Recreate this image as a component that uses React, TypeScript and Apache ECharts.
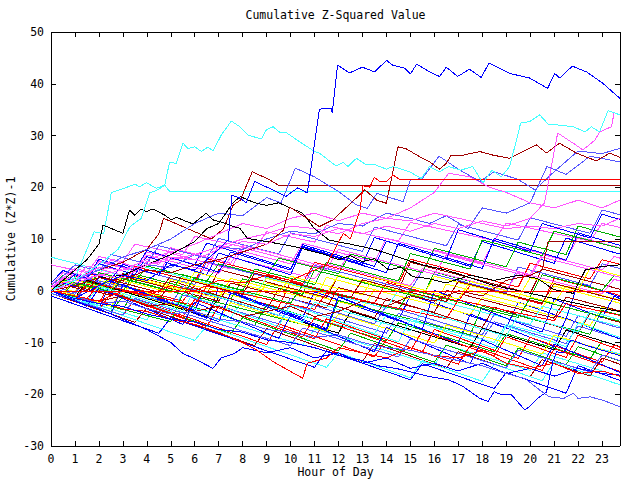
import React, { useEffect, useRef } from "react";
import * as echarts from "echarts";

const TITLE = "Cumulative Z-Squared Value";
const X_NAME = "Hour of Day";
const Y_NAME = "Cumulative (Z*Z)-1";

// half-hour sample times for the bundle series
const HOURS = [0, 0.5, 1, 1.5, 2, 2.5, 3, 3.5, 4, 4.5, 5, 5.5, 6, 6.5, 7, 7.5, 8, 8.5, 9, 9.5, 10, 10.5, 11, 11.5,
  12, 12.5, 13, 13.5, 14, 14.5, 15, 15.5, 16, 16.5, 17, 17.5, 18, 18.5, 19, 19.5, 20, 20.5, 21, 21.5, 22, 22.5, 23, 23.5, 23.75];

const L1 = [0,-0.6,-1.2,-1.8,-2.4,1.6,1,0.4,-0.2,-0.8,-1.4,-2,1,0.4,-0.2,-0.8,-1.4,-2,-2.6,-3.2,1.8,1.2,0.6,0,-0.6,-1.2,-1.8,-2.4,1.6,1,0.4,-0.2,-0.8,-1.4,-2,1,0.4,-0.2,-0.8,-1.4,-2,-2.6,2.4,1.8,1.2,0.6,0,-0.6,-0.9];
const L2 = [0.5,-0.2,-0.9,-1.6,-2.3,-3,-3.7,0.3,-0.4,-1.1,-1.8,-2.5,-3.2,-3.9,-4.6,-5.3,-6,-6.7,-2.7,-3.4,-4.1,-4.8,-5.5,-6.2,-6.9,-7.6,-8.3,-9,-9.7,-6.2,-6.9,-7.6,-8.3,-9,-9.7,-10.4,-11.1,-11.8,-8.3,-9,-9.7,-10.4,-11.1,-11.8,-12.5,-13.2,-9.7,-10.4,-10.8];
const L3 = [0,-0.8,-1.6,-2.4,2.6,1.8,1,0.2,-0.6,-1.4,-2.2,-3,-3.8,1.2,0.4,-0.4,-1.2,-2,-2.8,-3.6,-4.4,-5.2,-0.2,-1,-1.8,-2.6,-3.4,-4.2,-5,-5.8,-0.8,-1.6,-2.4,-3.2,-4,-4.8,-5.6,-6.4,-7.2,-2.2,-3,-3.8,-4.6,-5.4,1.6,0.8,0,-0.8,-1.2];
const L4 = [1,3.5,2.9,2.3,5.8,5.2,4.6,4,7.5,6.9,6.3,5.7,5.1,4.5,8.8,8.2,7.6,7,6.4,5.8,5.2,9.2,8.6,8,7.4,6.8,6.2,5.6,10.1,9.5,8.9,8.3,7.7,7.1,6.5,5.9,5.3,9.6,9,8.4,7.8,7.2,6.6,6,10.4,9.8,9.2,8.6,8.3];
const L5 = [0,-0.7,-1.4,-2.1,-2.8,-3.5,-4.2,-4.9,-5.6,-2.1,-2.8,-3.5,-4.2,-4.9,-5.6,-6.3,-7,-7.7,-8.4,-9.1,-9.8,-10.5,-7.4,-8.1,-8.8,-9.5,-10.2,-10.9,-11.6,-12.3,-13,-13.7,-14.4,-10.5,-11.2,-11.9,-12.6,-13.3,-14,-14.7,-15.4,-12,-12.7,-13.4,-14.1,-14.8,-15.5,-16.2,-16.5];
const L6 = [0,1.8,1.2,0.6,0,-0.6,3.4,2.8,2.2,1.6,1,0.4,-0.2,-0.8,4.1,3.5,2.9,2.3,1.7,1.1,0.5,-0.1,-0.7,-1.3,3,2.4,1.8,1.2,0.6,0,5.5,4.9,4.3,3.7,3.1,2.5,1.9,1.3,0.7,0.1,-0.5,4.2,3.6,3,2.4,1.8,1.2,0.6,0.3];
const L7 = [1,0.4,-0.2,2.6,2,1.4,0.8,0.2,-0.4,-1,2.2,1.6,1,0.4,-0.2,-0.8,-1.4,-2,1.5,0.9,0.3,-0.3,-0.9,-1.5,-2.1,-2.7,-3.3,0.2,-0.4,-1,-1.6,-2.2,-2.8,-3.4,-4,-4.6,-1.3,-1.9,-2.5,-3.1,-3.7,-4.3,-4.9,-5.5,-6.1,-6.7,-3.2,-3.8,-4.1];
const L8 = [-0.5,-1.2,-1.9,0.9,0.2,-0.5,-1.2,-1.9,-2.6,-3.3,-4,-0.8,-1.5,-2.2,-2.9,-3.6,-4.3,-5,-5.7,-6.4,-2.6,-3.3,-4,-4.7,-5.4,-6.1,-6.8,-7.5,-8.2,-4.4,-5.1,-5.8,-6.5,-7.2,-7.9,-8.6,-9.3,-6,-6.7,-7.4,-8.1,-8.8,-9.5,-10.2,-6.8,-7.5,-8.2,-8.9,-9.3];
const L9 = [0,-0.8,-1.6,-2.4,-3.2,-4,-4.8,-1.6,-2.4,-3.2,-4,-4.8,-5.6,-6.4,-7.2,-8,-8.8,-9.6,-10.4,-6.4,-7.2,-8,-8.8,-9.6,-10.4,-11.2,-12,-12.8,-9.4,-10.2,-11,-11.8,-12.6,-13.4,-14.2,-10.6,-11.4,-12.2,-13,-13.8,-14.6,-15.4,-11.2,-12,-12.8,-13.6,-14.4,-15.2,-15.6];
const L10 = [1,2.9,2.3,1.7,1.1,0.5,-0.1,3.2,2.6,2,1.4,0.8,0.2,-0.4,-1,-1.6,2.3,1.7,1.1,0.5,-0.1,-0.7,4,3.4,2.8,2.2,1.6,1,0.4,-0.2,-0.8,-1.4,3.6,3,2.4,1.8,1.2,0.6,0,-0.6,-1.2,3.1,2.5,1.9,1.3,0.7,0.1,2.9,2.6];
const L11 = [0,-0.9,-1.8,-2.7,-3.6,1.9,1,0.1,-0.8,-1.7,-2.6,-3.5,-4.4,-5.3,0.8,-0.1,-1,-1.9,-2.8,-3.7,-4.6,-5.5,-6.4,-7.3,-1.1,-2,-2.9,-3.8,-4.7,-5.6,-6.5,-7.4,-8.3,-9.2,-10.1,-4.5,-5.4,-6.3,-7.2,-8.1,-9,-9.9,-10.8,-5.3,-6.2,-7.1,-8,-8.9,-9.3];
const L12 = [5,4.5,4,3.5,6.6,6.1,5.6,9,8.5,8,7.5,7,10.5,10,9.5,9,8.5,8,11.4,10.9,10.4,9.9,9.4,12.6,12.1,11.6,11.1,10.6,10.1,9.6,13.2,12.7,12.2,11.7,11.2,10.7,10.2,9.7,13.1,12.6,12.1,11.6,11.1,10.6,10.1,9.6,13,12.5,12.2];
const L13 = [-0.5,-1.1,-1.7,-2.3,-2.9,-3.5,0.2,-0.4,-1,-1.6,-2.2,-2.8,-3.4,-4,-4.6,-5.2,-1.8,-2.4,-3,-3.6,-4.2,-4.8,-5.4,-6,-6.6,-7.2,-7.8,-8.4,-4.6,-5.2,-5.8,-6.4,-7,-7.6,-8.2,-8.8,-9.4,-10,-6.5,-7.1,-7.7,-8.3,-8.9,-9.5,-10.1,-10.7,-11.3,-11.9,-12.2];
const L14 = [0,-0.7,2.8,2.1,1.4,0.7,0,-0.7,-1.4,-2.1,1.9,1.2,0.5,-0.2,-0.9,-1.6,-2.3,-3,-3.7,0.4,-0.3,-1,-1.7,-2.4,-3.1,-3.8,-4.5,-5.2,-1.5,-2.2,-2.9,-3.6,-4.3,-5,-5.7,-6.4,-7.1,-3.2,-3.9,-4.6,-5.3,-6,-6.7,-7.4,-8.1,-4.4,-5.1,-5.8,-6.1];
const L15 = [0,2.2,1.6,1,0.4,-0.2,-0.8,2.7,2.1,1.5,0.9,0.3,-0.3,-0.9,-1.5,2.4,1.8,1.2,0.6,0,-0.6,-1.2,-1.8,2.6,2,1.4,0.8,0.2,-0.4,-1,-1.6,-2.2,-2.8,1.3,0.7,0.1,-0.5,-1.1,-1.7,-2.3,-2.9,-3.5,0.9,0.3,-0.3,-0.9,-1.5,-2.1,-2.4];
const L16 = [0,-0.7,-1.4,2,1.3,0.6,-0.1,-0.8,-1.5,-2.2,-2.9,-3.6,-4.3,-5,-1.2,-1.9,-2.6,-3.3,-4,-4.7,-5.4,-6.1,-6.8,-7.5,-8.2,-4,-4.7,-5.4,-6.1,-6.8,-7.5,-8.2,-8.9,-9.6,-10.3,-11,-7.2,-7.9,-8.6,-9.3,-10,-10.7,-11.4,-7.6,-8.3,-9,-9.7,-10.4,-10.8];
const L17 = [0.5,-0.1,-0.7,2.5,1.9,1.3,0.7,4.2,3.6,3,2.4,1.8,1.2,5.6,5,4.4,3.8,3.2,2.6,2,1.4,0.8,4.9,4.3,3.7,3.1,2.5,1.9,1.3,0.7,0.1,3.8,3.2,2.6,2,1.4,0.8,0.2,-0.4,4.6,4,3.4,2.8,2.2,1.6,1,5.2,4.6,4.3];
const L18 = [-0.5,-1.3,-2.1,-2.9,-3.7,-0.5,-1.3,-2.1,-2.9,-3.7,-4.5,-5.3,-6.1,-6.9,-2.9,-3.7,-4.5,-5.3,-6.1,-6.9,-7.7,-8.5,-9.3,-5.4,-6.2,-7,-7.8,-8.6,-9.4,-10.2,-11,-11.8,-7.5,-8.3,-9.1,-9.9,-10.7,-11.5,-12.3,-13.1,-9,-9.8,-10.6,-11.4,-12.2,-13,-13.8,-10.5,-10.9];
const L19 = [0,-0.6,-1.2,-1.8,-2.4,-3,-3.6,-4.2,-4.8,-5.4,-6,-0.5,-1.1,-1.7,-2.3,-2.9,-3.5,-4.1,-4.7,-5.3,-5.9,-6.5,-7.1,-7.7,-1.9,-2.5,-3.1,-3.7,-4.3,-4.9,-5.5,-6.1,-6.7,-7.3,-7.9,-8.5,-3,-3.6,-4.2,-4.8,-5.4,-6,-6.6,-7.2,-7.8,-8.4,-3.8,-4.4,-4.7];
const L20 = [1.5,3.9,3.2,2.5,6.1,5.4,4.7,4,7.8,7.1,6.4,5.7,5,9.2,8.5,7.8,7.1,6.4,5.7,5,4.3,8.6,7.9,7.2,6.5,5.8,5.1,10.3,9.6,8.9,8.2,7.5,6.8,6.1,5.4,4.7,9.5,8.8,8.1,7.4,6.7,6,5.3,10.2,9.5,8.8,8.1,7.4,7.1];
const L21 = [0,2.4,4.3,3.7,3.1,5.9,5.3,4.7,4.1,3.5,7.2,6.6,6,5.4,4.8,4.2,8.3,7.7,7.1,6.5,5.9,5.3,4.7,4.1,8,7.4,6.8,6.2,5.6,5,4.4,3.8,7.9,7.3,6.7,6.1,5.5,4.9,4.3,3.7,3.1,7,6.4,5.8,5.2,4.6,4,6.6,6.3];
const L22 = [0,-0.8,-1.6,1.5,0.7,-0.1,-0.9,-1.7,-2.5,-3.3,-4.1,-0.5,-1.3,-2.1,-2.9,-3.7,-4.5,-5.3,-6.1,-6.9,-2.7,-3.5,-4.3,-5.1,-5.9,-6.7,-7.5,-8.3,-9.1,-9.9,-5.5,-6.3,-7.1,-7.9,-8.7,-9.5,-10.3,-11.1,-6.8,-7.6,-8.4,-9.2,-10,-10.8,-6.2,-7,-7.8,-8.6,-9];
const L23 = [0,1.5,0.9,0.3,-0.3,-0.9,2.8,2.2,1.6,1,0.4,-0.2,-0.8,-1.4,-2,1.5,0.9,0.3,-0.3,-0.9,-1.5,-2.1,-2.7,-3.3,0.6,0,-0.6,-1.2,-1.8,-2.4,-3,-3.6,-4.2,0.1,-0.5,-1.1,-1.7,-2.3,-2.9,-3.5,-4.1,-4.7,-5.3,-1.2,-1.8,-2.4,-3,-3.6,-3.9];
const L24 = [0.5,-0.2,-0.9,-1.6,-2.3,-3,0.1,-0.6,-1.3,-2,-2.7,-3.4,-4.1,-4.8,-5.5,-2.3,-3,-3.7,-4.4,-5.1,-5.8,-6.5,-7.2,-7.9,-4.5,-5.2,-5.9,-6.6,-7.3,-8,-8.7,-9.4,-10.1,-6.6,-7.3,-8,-8.7,-9.4,-10.1,-10.8,-11.5,-12.2,-8.6,-9.3,-10,-10.7,-11.4,-12.1,-12.4];
const L25 = [0,1.8,1.2,0.6,3.5,2.9,2.3,1.7,4.8,4.2,3.6,3,2.4,1.8,5.2,4.6,4,3.4,2.8,6.3,5.7,5.1,4.5,3.9,3.3,7.1,6.5,5.9,5.3,4.7,4.1,3.5,8.2,7.6,7,6.4,5.8,5.2,4.6,9.4,8.8,8.2,7.6,7,12.5,11.9,11.3,10.7,10.4];
const L26 = [-1,-1.8,-2.6,-3.4,-4.2,-5,-5.8,-6.6,-7.4,-8.2,-5.2,-6,-6.8,-7.6,-8.4,-9.2,-10,-10.8,-11.6,-12.4,-13.2,-14,-14.8,-11.6,-12.4,-13.2,-14,-14.8,-15.6,-16.4,-17.2,-14.1,-14.9,-15.7,-16.5,-17.3,-18.1,-18.9,-15.8,-16.6,-17.4,-18.2,-19,-19.8,-14.5,-15.3,-16.1,-16.9,-17.3];
const L27 = [0,1.6,1,3.4,2.8,2.2,1.6,4.7,4.1,3.5,2.9,2.3,1.7,6.2,5.6,5,4.4,3.8,3.2,2.6,2,1.4,5.5,4.9,4.3,3.7,3.1,2.5,1.9,1.3,6.1,5.5,4.9,4.3,3.7,3.1,2.5,1.9,1.3,0.7,5.3,4.7,4.1,3.5,2.9,2.3,6,5.4,5.1];
const L28 = [1,0.3,-0.4,2.3,1.6,0.9,0.2,-0.5,-1.2,-1.9,-2.6,0.8,0.1,-0.6,-1.3,-2,-2.7,-3.4,-4.1,-4.8,-1.5,-2.2,-2.9,-3.6,-4.3,-5,-5.7,-6.4,-2.9,-3.6,-4.3,-5,-5.7,-6.4,-7.1,-7.8,-8.5,-4.6,-5.3,-6,-6.7,-7.4,-8.1,-8.8,-4.8,-5.5,-6.2,-6.9,-7.2];
const L29 = [0,1.5,3.4,2.8,5.6,5,4.4,3.8,6.9,6.3,5.7,5.1,4.5,3.9,3.3,6.5,5.9,5.3,4.7,4.1,3.5,2.9,2.3,5.2,4.6,4,3.4,2.8,2.2,1.6,1,4.3,3.7,3.1,2.5,1.9,1.3,0.7,0.1,3.6,3,2.4,1.8,1.2,0.6,0,-0.6,2.2,1.9];
const L30 = [0,-0.8,-1.6,-2.4,-3.2,-4,-1.1,-1.9,-2.7,-3.5,-4.3,-5.1,-5.9,-6.7,-7.5,-8.3,-5.2,-6,-6.8,-7.6,-8.4,-9.2,-10,-10.8,-11.6,-8.2,-9,-9.8,-10.6,-11.4,-12.2,-13,-13.8,-10.5,-11.3,-12.1,-12.9,-13.7,-14.5,-11.1,-11.9,-12.7,-13.5,-14.3,-10.8,-11.6,-12.4,-13.2,-13.6];
const L31 = [6.5,5.9,5.3,4.7,4.1,3.5,2.9,5.1,4.5,3.9,3.3,2.7,2.1,1.5,0.9,0.3,-0.3,-0.9,2.6,2,1.4,0.8,0.2,-0.4,-1,-1.6,-2.2,-2.8,-3.4,0.1,-0.5,-1.1,-1.7,-2.3,-2.9,-3.5,-4.1,-4.7,-5.3,-5.9,-6.5,-3,-3.6,-4.2,-4.8,-5.4,-6,-6.6,-6.9];
const L32 = [0,1.9,1.3,0.7,0.1,2.6,2,1.4,0.8,0.2,-0.4,2.5,1.9,1.3,0.7,0.1,-0.5,-1.1,2.4,1.8,1.2,0.6,0,-0.6,3,2.4,1.8,1.2,0.6,0,-0.6,-1.2,2.8,2.2,1.6,1,0.4,-0.2,-0.8,-1.4,2.5,1.9,1.3,0.7,0.1,4.4,3.8,3.2,2.9];
const L33 = [-0.5,-1.3,-2.1,-2.9,-3.7,-4.5,-5.3,-6.1,-3.4,-4.2,-5,-5.8,-6.6,-7.4,-8.2,-9,-9.8,-10.6,-7.3,-8.1,-8.9,-9.7,-10.5,-11.3,-12.1,-12.9,-13.7,-10.2,-11,-11.8,-12.6,-13.4,-14.2,-15,-11.8,-12.6,-13.4,-14.2,-15,-15.8,-16.6,-13.3,-14.1,-14.9,-15.7,-16.5,-13,-13.8,-14.2];
const L34 = [0,-0.9,-1.8,-2.7,-3.6,-4.5,1.2,0.3,-0.6,-1.5,-2.4,-3.3,-4.2,-5.1,-6,-0.4,-1.3,-2.2,-3.1,-4,-4.9,-5.8,-6.7,-7.6,-1.2,-2.1,-3,-3.9,-4.8,-5.7,-6.6,-7.5,0.1,-0.8,-1.7,-2.6,-3.5,-4.4,-5.3,-6.2,-7.1,-8,-1.6,-2.5,-3.4,-4.3,-5.2,-1.1,-1.5];
const L35 = [1,2.8,5,4.4,3.8,7,6.4,5.8,5.2,8.7,8.1,7.5,6.9,6.3,10.1,9.5,8.9,8.3,7.7,7.1,11.2,10.6,10,9.4,8.8,8.2,7.6,12.3,11.7,11.1,10.5,9.9,9.3,8.7,12.8,12.2,11.6,11,10.4,9.8,14.1,13.5,12.9,12.3,11.7,11.1,15.6,15,14.7];
const L36 = [0,-0.8,-1.6,1.3,0.5,-0.3,-1.1,-1.9,-2.7,-3.5,-4.3,-5.1,-1.7,-2.5,-3.3,-4.1,-4.9,-5.7,-6.5,-7.3,-8.1,-8.9,-5.2,-6,-6.8,-7.6,-8.4,-9.2,-10,-10.8,-11.6,-7.8,-8.6,-9.4,-10.2,-11,-11.8,-12.6,-8.9,-9.7,-10.5,-11.3,-12.1,-12.9,-8.6,-9.4,-10.2,-11,-11.4];
const L37 = [0,2.1,1.5,0.9,0.3,2.9,2.3,1.7,1.1,0.5,-0.1,-0.7,2.4,1.8,1.2,0.6,0,-0.6,-1.2,-1.8,-2.4,1.1,0.5,-0.1,-0.7,-1.3,-1.9,-2.5,-3.1,-3.7,0.2,-0.4,-1,-1.6,-2.2,-2.8,-3.4,-4,-4.6,-5.2,-1.4,-2,-2.6,-3.2,-3.8,-4.4,-5,-5.6,-5.9];
const L38 = [0,1.3,3.1,2.4,5.2,4.5,3.8,3.1,6.6,5.9,5.2,4.5,3.8,3.1,7.3,6.6,5.9,5.2,4.5,3.8,3.1,8.4,7.7,7,6.3,5.6,4.9,4.2,3.5,9.2,8.5,7.8,7.1,6.4,5.7,5,4.3,10.1,9.4,8.7,8,7.3,6.6,5.9,11.2,10.5,9.8,9.1,8.8];
const L39 = [0.5,2.6,2,4.8,4.2,3.6,3,2.4,5.7,5.1,8.3,7.7,7.1,6.5,5.9,5.3,8.8,8.2,7.6,7,6.4,5.8,5.2,4.6,4,7.4,6.8,6.2,5.6,5,4.4,3.8,3.2,6.9,6.3,5.7,5.1,4.5,3.9,3.3,2.7,6.5,5.9,5.3,4.7,4.1,3.5,2.9,2.6];
const L40 = [0,-0.8,-1.6,-2.4,-3.2,-4,-4.8,-5.6,-6.4,-7.2,-8,-8.8,-9.6,-6.8,-7.6,-8.4,-9.2,-10,-10.8,-11.6,-12.4,-13.2,-14,-14.8,-12,-12.8,-13.6,-14.4,-15.2,-16,-16.8,-13.5,-14.3,-15.1,-15.9,-16.7,-17.5,-14.2,-15,-15.8,-16.6,-17.4,-13.8,-14.6,-15.4,-16.2,-17,-17.8,-18.1];
const L41 = [0,-0.5,-1,-1.5,1.2,0.7,0.2,-0.3,-0.8,-1.3,-1.8,-2.3,-2.8,0.9,0.4,-0.1,-0.6,-1.1,-1.6,-2.1,-2.6,-3.1,-3.6,-0.4,-0.9,-1.4,-1.9,-2.4,-2.9,-3.4,-3.9,-4.4,-4.9,-5.4,-1.8,-2.3,-2.8,-3.3,-3.8,-4.3,-4.8,-5.3,-5.8,-2.5,-3,-3.5,-4,-4.5,-4.8];
const L42 = [0,-1,-2,-3,0.5,-0.5,-1.5,-2.5,-3.5,-4.5,-5.5,-6.5,-2.2,-3.2,-4.2,-5.2,-6.2,-7.2,-8.2,-9.2,-4.8,-5.8,-6.8,-7.8,-8.8,-9.8,-10.8,-11.8,-7.1,-8.1,-9.1,-10.1,-11.1,-12.1,-13.1,-14.1,-9.5,-10.5,-11.5,-12.5,-13.5,-14.5,-10.3,-11.3,-12.3,-13.3,-14.3,-15.3,-15.8];
const L43 = [0,-0.6,1.6,1,0.4,-0.2,2.4,1.8,1.2,0.6,0,3.1,2.5,1.9,1.3,0.7,0.1,4.2,3.6,3,2.4,1.8,1.2,5.5,4.9,4.3,3.7,3.1,2.5,1.9,7.2,6.6,6,5.4,4.8,4.2,9.8,9.2,8.6,8,7.4,6.8,11.5,10.9,10.3,9.7,9.1,8.5,8.2];
const L44 = [0,-0.6,2.1,1.5,0.9,0.3,3,2.4,1.8,1.2,0.6,0,3.6,3,2.4,1.8,1.2,0.6,0,-0.6,2.8,2.2,1.6,1,0.4,-0.2,-0.8,2.6,2,1.4,0.8,0.2,-0.4,-1,-1.6,1.8,1.2,0.6,0,-0.6,-1.2,-1.8,-2.4,0.9,0.3,-0.3,-0.9,-1.5,-1.8];
const L45 = [-0.5,-1.2,-1.9,-2.6,-3.3,-4,-4.7,-1.5,-2.2,-2.9,-3.6,-4.3,-5,-5.7,-6.4,-7.1,-7.8,-8.5,-9.2,-9.9,-10.6,-7.2,-7.9,-8.6,-9.3,-10,-10.7,-11.4,-12.1,-12.8,-9.3,-10,-10.7,-11.4,-12.1,-12.8,-13.5,-14.2,-14.9,-11.5,-12.2,-12.9,-13.6,-14.3,-15,-15.7,-12.4,-13.1,-13.5];
const L46 = [0,1.2,0.6,0,2.7,2.1,1.5,0.9,0.3,-0.3,2.9,2.3,1.7,1.1,0.5,-0.1,-0.7,3.4,2.8,2.2,1.6,1,0.4,-0.2,-0.8,-1.4,2.1,1.5,0.9,0.3,-0.3,-0.9,-1.5,-2.1,1.8,1.2,0.6,0,-0.6,-1.2,-1.8,-2.4,1.4,0.8,0.2,-0.4,-1,-1.6,-1.9];
const L47 = [0,1.5,0.8,3.6,2.9,2.2,5.1,4.4,3.7,3,6.4,5.7,5,4.3,3.6,7.5,6.8,6.1,5.4,4.7,4,8.9,8.2,7.5,6.8,6.1,5.4,4.7,9.6,8.9,8.2,7.5,6.8,6.1,11.8,11.1,10.4,9.7,9,8.3,7.6,13,12.3,11.6,10.9,10.2,14.8,14.1,13.8];
const L48 = [0,-0.7,-1.4,-2.1,0.9,0.2,-0.5,-1.2,-1.9,-2.6,-3.3,-4,0.2,-0.5,-1.2,-1.9,-2.6,-3.3,-4,-4.7,-5.4,-6.1,-2.2,-2.9,-3.6,-4.3,-5,-5.7,-6.4,-7.1,-7.8,-3.9,-4.6,-5.3,-6,-6.7,-7.4,-8.1,-8.8,-4.5,-5.2,-5.9,-6.6,-7.3,-8,-3.9,-4.6,-5.3,-5.6];

// prominent series as [hour, value] pairs
const bigBlue = [[0, 0], [1, -1.5], [2, 1], [3, 3], [4, 2], [5, 5], [6, 4], [7, 8], [7.4, 9.8], [7.55, 18.5], [7.88, 17.9], [8.15, 17], [8.5, 21.1], [9.25, 19.5], [9.8, 18.2], [10.3, 19.9], [10.7, 18.9], [11.2, 34.9], [11.34, 35.3], [11.7, 35.3], [11.74, 34.4], [11.96, 43.6], [12.46, 42.1], [13.0, 43.2], [13.5, 42.3], [14.01, 44.5], [14.26, 43.6], [14.76, 43], [15.01, 41.9], [15.26, 43.8], [15.8, 42.3], [16.22, 41.4], [16.5, 43.2], [16.97, 41.4], [17.47, 42.8], [17.96, 41.2], [18.28, 44], [19.14, 42], [19.98, 41.1], [20.73, 39.1], [21.02, 42], [21.23, 41.1], [21.76, 43.4], [22.35, 42.3], [23.03, 40.1], [23.74, 37.2]];
const cyanFlat = [[0, 0], [0.5, 1.5], [1, 2.5], [1.5, 8], [1.8, 11.4], [2.2, 11], [2.52, 19], [3.0, 19.7], [3.5, 20.6], [3.7, 20.1], [3.98, 20.9], [4.4, 19.8], [4.75, 20.4], [4.95, 19.2], [23.74, 19.2]];
const cyanHigh = [[0, 0], [1, 2], [2, 5], [2.8, 8], [3.3, 12.4], [3.77, 14], [4.12, 18.9], [4.45, 19.5], [4.75, 20.4], [4.95, 24.9], [5.23, 24.6], [5.51, 28.5], [5.72, 27.5], [6.0, 27.8], [6.28, 26.9], [6.55, 27.8], [6.76, 27], [7.11, 30.1], [7.53, 32.8], [7.88, 31.7], [8.22, 30.1], [8.78, 29.3], [8.99, 31.1], [9.27, 31.7], [9.55, 30.6], [9.8, 30.6], [10.38, 28.8], [11.0, 26.9], [11.2, 26.6], [11.9, 24.1], [12.2, 24.8], [12.4, 24], [12.75, 25.6], [13.16, 24.3], [13.44, 24.5], [14.0, 23.5], [14.27, 24], [14.97, 23], [15.46, 21.7], [15.8, 24], [16.22, 23], [16.6, 24], [17.1, 23.3], [17.6, 24], [18.03, 20.8], [18.4, 23.3], [18.8, 22], [19.14, 24], [19.5, 30.4], [19.6, 32.4], [19.98, 32.7], [20.4, 34], [20.75, 32.2], [21.23, 32], [21.8, 31.7], [22.3, 30.7], [22.55, 31.7], [22.9, 30.7], [23.25, 34.8], [23.74, 34]];
const magentaHigh = [[0, 0], [1, 1.5], [2, 3], [3, 2.5], [4, 5], [5, 6.5], [6, 6], [7, 8], [8, 9.5], [9, 9], [10, 11], [11, 10.5], [12, 12], [13, 11], [14, 12.5], [15, 11.5], [16, 13], [17, 12], [18, 13.5], [19, 12.5], [20, 14], [20.6, 17], [21.15, 30.5], [21.6, 29.1], [21.9, 28.2], [22.2, 27.2], [22.7, 29.1], [22.9, 30.7], [23.1, 31.1], [23.4, 31.7], [23.5, 34.4], [23.74, 34]];
const darkRedHigh = [[0, 0], [1, 1], [2, 2.5], [3, 2], [4, 4], [5, 3.5], [6, 5], [7, 6], [8, 7.5], [9, 9], [9.7, 11.7], [9.96, 16.2], [11.2, 12.4], [11.77, 13.7], [12.95, 18.8], [13.1, 19.5], [13.6, 17.5], [14.0, 16.9], [14.48, 27.8], [14.8, 27.5], [15.39, 25.9], [15.8, 24.9], [16.22, 23.5], [16.5, 24.6], [16.7, 26.2], [17.2, 26.2], [17.9, 26.9], [18.45, 26.2], [19.14, 25.6], [19.7, 26.9], [20.26, 28.2], [20.68, 26.6], [21.23, 28.5], [21.93, 26.6], [22.76, 25.1], [23.32, 26.6], [23.74, 25.8]];
const darkRedFlat = [[0, 0], [1, 2], [2, 4], [3, 5.5], [4, 8], [4.5, 11], [4.7, 14], [5.2, 13], [5.7, 12], [6.2, 11], [6.7, 10], [7.2, 12], [7.6, 16.5], [7.9, 17.5], [8.4, 23], [9.1, 21.5], [9.5, 20.4], [23.74, 20.4]];
const redFlat = [[0, 0], [1, -1], [2, -2], [3, 0], [4, -1], [5, 1], [6, 0], [7, 2], [8, 1.5], [9, 3], [10, 2], [11, 4], [11.5, 5], [12.2, 11.1], [12.5, 10], [12.9, 15.6], [13.02, 20.3], [13.3, 20], [13.5, 21.9], [13.7, 21.2], [14, 21.1], [14.27, 22.4], [14.55, 21.5], [23.74, 21.5]];
const redZero = [[0, -0.1], [23.74, -0.1]];
const blueLow = [[0, 0], [1, -1.5], [2, -2.5], [3, -3], [4, -4.5], [5, -5.5], [6, -6], [7, -7.5], [8, -8], [9, -9.5], [10, -10], [11, -11], [12, -12.5], [13, -13.5], [13.65, -14.5], [14.4, -15], [15.1, -15.8], [15.8, -16.6], [16.6, -17.2], [17.2, -18.5], [17.9, -20.8], [18.24, -21.4], [18.5, -19.5], [18.8, -20.1], [19.2, -20], [19.77, -23], [19.98, -22.4], [20.3, -20.8], [20.68, -19.6], [20.95, -13.7], [21.1, -11.8], [21.4, -12], [21.7, -9.5], [22.3, -10.5], [23, -11.5], [23.74, -12.5]];
const medBlueLow = [[0, 0], [1, -1], [2, -2.5], [3, -2], [4, -3.5], [5, -4.5], [6, -4], [7, -5.5], [8, -6], [9, -7.5], [10, -8], [11, -9], [12, -8.5], [13, -10], [14, -11], [15, -11.5], [16, -12.5], [17, -13.5], [18, -14.5], [19, -16], [19.8, -17], [20.4, -19.2], [20.8, -20.5], [21.4, -20.8], [21.8, -19.8], [22, -20.8], [22.5, -20.5], [23, -21.1], [23.74, -22.4]];
const redLow = [[0, 0], [1, -1.5], [2, -2], [3, -3.5], [4, -4], [5, -5.5], [6, -6.5], [7, -8], [8, -10], [8.6, -11.5], [9.27, -13.7], [10.5, -16.9], [10.7, -14], [11.5, -13], [12, -11], [13, -12], [14, -13], [15, -11], [16, -12.5], [17, -13], [18, -11.5], [19, -14], [20, -15], [21, -14], [22, -16], [23, -15.5], [23.74, -16.5]];
const blueLowEarly = [[0, 0], [1, -2], [2, -3.5], [3, -5.5], [4, -7.5], [5, -10], [5.5, -12.1], [5.93, -13], [6.76, -15], [7.1, -13], [7.67, -12.1], [8, -11], [9, -12], [10, -11], [11, -13], [12, -12], [13, -14], [14, -13], [15, -15], [16, -14], [17, -15.5], [18, -14], [19, -16], [20, -15], [21, -16.5], [22, -15], [23, -16], [23.74, -16.3]];
const blackHigh = [[0, 0], [0.5, 2], [1, 4], [1.5, 6], [2, 9], [2.17, 12.7], [3.0, 11.1], [3.28, 15.6], [3.5, 14.6], [3.77, 15.8], [3.98, 15.3], [4.26, 15.8], [4.75, 14.6], [5.02, 13.7], [5.23, 14.2], [5.65, 13.4], [5.93, 12.9], [6.48, 15], [6.76, 13.7], [7.18, 13.2], [7.6, 12.4], [7.88, 12.1], [8.2, 10.1], [9, 9.5], [10.2, 8.5], [11.5, 6.9], [12, 6], [12.5, 6.8], [13, 5.6], [13.5, 6.2], [14.1, 4], [14.6, 4.6], [15.1, 2.7], [15.7, 2.4], [16.5, 1.5], [17.5, 3], [18.5, 2], [19.5, 3], [20.3, 2.4], [21, 0.2], [21.8, -0.5], [22.3, 4], [23, 4.7], [23.74, 5]];
const blackMid = [[0, 0], [1, 1], [2, 2.5], [3, 3], [4, 5], [5, 7], [6, 9.5], [6.5, 12], [7, 13], [7.6, 17], [7.9, 18.2], [8.5, 17], [9, 16.5], [9.5, 17], [10, 16], [10.5, 15], [11, 12], [11.6, 9.8], [12.5, 9], [13.5, 8], [14.5, 6.5], [15.5, 5], [16.5, 4], [17.5, 2.5], [18.5, 1], [19.5, 0], [20.5, -1], [21.5, -2], [22.5, -3], [23.74, -4]];
const darkRedNine = [[0, 0], [1, -1], [2, -2], [3, -1], [4, -3], [5, -2.5], [6, -4], [7, -3], [8, -5], [9, -4], [10, -3], [11, -5], [12, -4], [13, -2], [14, -3], [15, -1], [16, -2], [17, 0], [18, -1], [19, 2], [20, 3], [20.5, 4], [20.75, 9.5], [23.74, 9.5]];
const medBlueUp1 = [[0, 0], [1, 2], [2, 4], [3, 6.5], [4, 8], [5, 10], [6, 13], [7, 15], [8, 14.5], [9, 18], [9.6, 17], [10.2, 23.7], [11, 22], [12, 19.2], [12.75, 16.6], [13.2, 15.9], [13.6, 18.8], [14.7, 17.2], [15, 21.4], [15.5, 21.7], [16.2, 26], [17, 23.5], [17.9, 21.1], [18.5, 23], [19.5, 21.5], [20.2, 19.5], [21, 23], [22, 27], [23, 26.5], [23.74, 27.5]];
const medBlueUp2 = [[0, 0], [1, 1.5], [2, 3], [3, 2.5], [4, 5], [5, 4.5], [6, 7], [7, 8.5], [8, 8], [9, 10], [10, 11.5], [11, 11], [12, 13], [13, 12.5], [14, 15], [15, 14], [15.8, 13], [16.5, 14.5], [17.4, 12], [18, 16], [19, 15], [20, 17], [20.7, 24], [21.5, 22.5], [22.5, 26], [23.74, 24.9]];
const magentaUp1 = [[0, 0], [1, 2], [2, 4.5], [3, 4], [4, 6], [5, 7.5], [6, 9], [7, 11], [8, 13], [9, 12], [10, 14], [11, 15], [12, 13.5], [13, 15], [14, 14], [15, 16], [16, 19], [16.6, 22.7], [17.5, 22], [18.3, 20], [19, 19], [20, 17], [21, 16], [22, 17.5], [23, 16], [23.74, 17.5]];
const magentaUp2 = [[0, 1], [2, 3], [4, 5], [6, 7], [8, 10], [9, 11], [10, 12.5], [11, 12], [12, 11], [13, 13], [14, 14], [15, 13.5], [16, 15], [17, 14], [18, 13], [19, 12], [20, 12.5], [21, 12], [22, 13], [23, 12.5], [23.74, 14]];

const RED = "#ff0000", GREEN = "#00b000", BLUE = "#0000ff", MAGENTA = "#ff55ff", CYAN = "#44ffff",
  DARKRED = "#a00000", YELLOW = "#ffff00", BLACK = "#000000", MEDBLUE = "#5555ff";

const bundle = [L1, L2, L3, L4, L5, L6, L7, L8, L9, L10, L11, L12, L13, L14, L15, L16, L17, L18, L19, L20, L21, L22, L23, L24,
  L25, L26, L27, L28, L29, L30, L31, L32, L33, L34, L35, L36, L37, L38, L39, L40, L41, L42, L43, L44, L45, L46, L47, L48];
const bundleColors = [RED, GREEN, BLUE, MAGENTA, CYAN, DARKRED, YELLOW, MEDBLUE, RED, GREEN, BLUE, MAGENTA,
  CYAN, DARKRED, YELLOW, BLACK, MEDBLUE, RED, GREEN, BLUE, MAGENTA, CYAN, DARKRED, YELLOW,
  GREEN, BLUE, RED, MEDBLUE, MAGENTA, GREEN, CYAN, YELLOW, DARKRED, BLUE, MEDBLUE, RED,
  GREEN, BLUE, MAGENTA, CYAN, RED, BLUE, GREEN, YELLOW, MEDBLUE, DARKRED, BLUE, CYAN];

const prominent: [number[][], string][] = [
  [cyanFlat, CYAN], [darkRedFlat, DARKRED], [medBlueUp2, MEDBLUE], [magentaUp2, MAGENTA],
  [magentaUp1, MAGENTA], [medBlueUp1, MEDBLUE], [blackMid, BLACK], [blackHigh, BLACK], [darkRedNine, DARKRED],
  [blueLowEarly, BLUE], [redLow, RED], [medBlueLow, MEDBLUE], [blueLow, BLUE],
  [darkRedHigh, DARKRED], [redFlat, RED], [magentaHigh, MAGENTA], [cyanHigh, CYAN],
  [bigBlue, BLUE], [redZero, RED],
];

const FONT = "'DejaVu Sans Mono', 'Liberation Mono', monospace";
const FS = 11.5;

export default function App() {
  const ref = useRef<HTMLDivElement>(null);
  useEffect(() => {
    if (!ref.current) return;
    const chart = echarts.init(ref.current, undefined, { renderer: "svg" });
    const series: any[] = [];
    bundle.forEach((vals, i) => {
      series.push({
        type: "line",
        data: vals.map((v, j) => [HOURS[j], v]),
        symbol: "none",
        lineStyle: { width: 1, color: bundleColors[i] },
        itemStyle: { color: bundleColors[i] },
        silent: true,
      });
    });
    prominent.forEach(([pts, c]) => {
      series.push({
        type: "line",
        data: pts,
        symbol: "none",
        lineStyle: { width: 1, color: c },
        itemStyle: { color: c },
        silent: true,
      });
    });
    const axisCommon = {
      axisLine: { show: true, onZero: false, lineStyle: { color: "#000", width: 1 } },
      axisTick: { show: true, inside: true, length: 5, lineStyle: { color: "#000", width: 1 } },
      splitLine: { show: false },
    };
    chart.setOption({
      animation: false,
      backgroundColor: "#fff",
      grid: { left: 51, right: 20, top: 32, bottom: 34, containLabel: false },
      xAxis: [
        {
          type: "value", min: 0, max: 23.75, interval: 1, position: "bottom", ...axisCommon,
          axisLabel: {
            color: "#000", fontFamily: FONT, fontSize: FS, margin: 7,
            formatter: (v: number) => (Number.isInteger(v) ? String(v) : ""),
          },
        },
        {
          type: "value", min: 0, max: 23.75, interval: 1, position: "top", ...axisCommon,
          axisLabel: { show: false },
        },
      ],
      yAxis: [
        {
          type: "value", min: -30, max: 50, interval: 10, position: "left", ...axisCommon,
          axisLabel: { color: "#000", fontFamily: FONT, fontSize: FS, margin: 7 },
        },
        {
          type: "value", min: -30, max: 50, interval: 10, position: "right", ...axisCommon,
          axisLabel: { show: false },
        },
      ],
      graphic: [
        {
          type: "text", x: 335.5, y: 15,
          style: { text: TITLE, font: `${FS}px ${FONT}`, fill: "#000", textAlign: "center", textVerticalAlign: "middle" },
        },
        {
          type: "text", x: 335.5, y: 472,
          style: { text: X_NAME, font: `${FS}px ${FONT}`, fill: "#000", textAlign: "center", textVerticalAlign: "middle" },
        },
        {
          type: "text", x: 11, y: 239, rotation: Math.PI / 2,
          style: { text: Y_NAME, font: `${FS}px ${FONT}`, fill: "#000", textAlign: "center", textVerticalAlign: "middle" },
        },
      ],
      series,
    });
    return () => chart.dispose();
  }, []);
  return (
    <>
      <style>{`#zchart svg path { shape-rendering: crispEdges; }`}</style>
      <div
        id="zchart"
        ref={ref}
        style={{ position: "absolute", left: 0, top: 0, width: 640, height: 480, background: "#fff" }}
      />
    </>
  );
}
